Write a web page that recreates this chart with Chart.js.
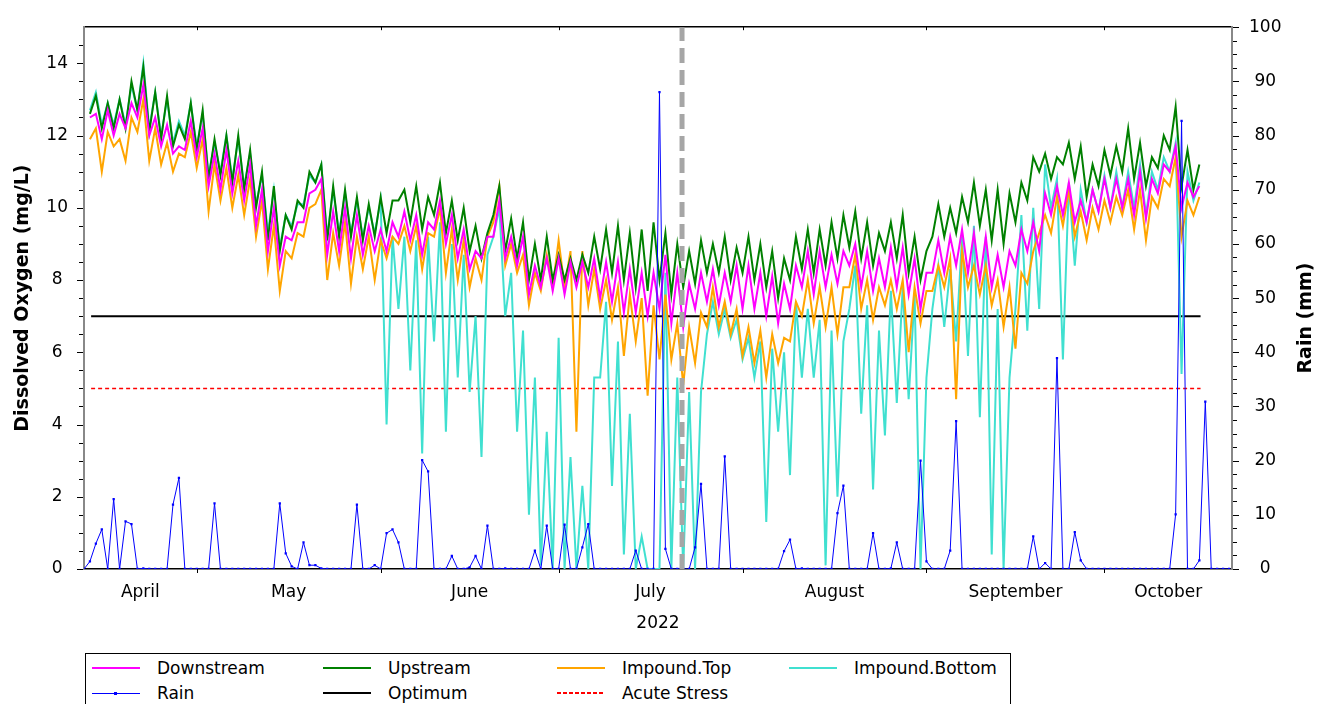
<!DOCTYPE html>
<html>
<head>
<meta charset="utf-8">
<script src="https://cdn.jsdelivr.net/npm/chart.js@4.4.0/dist/chart.umd.min.js"></script>
<style>
  html, body { margin: 0; padding: 0; background: #fff; }
  #wrap { position: relative; width: 1317px; height: 704px; overflow: hidden; font-family: "DejaVu Sans", sans-serif; }
  #chart { position: absolute; left: 0; top: 0; }
  #legend { position: absolute; left: 85px; top: 653px; width: 926px; height: 70px; border: 1px solid #000; box-sizing: border-box; }
  .item { position: absolute; display: flex; align-items: center; font-size: 17px; color: #000; white-space: nowrap; }
  .swatch { position: relative; width: 48px; height: 2px; margin-right: 17px; }
</style>
</head>
<body>
<div id="wrap">
  <canvas id="chart" width="1317" height="650"></canvas>
  <div id="legend"></div>
</div>
<script>
// x values are days counted from 12 April 2022 (day 0)
const monthNames = ['April', 'May', 'June', 'July', 'August', 'September', 'October'];
const monthEdges = [0, 19, 50, 80, 111, 142, 172, 193.5];   // Apr 12, May 1 ... Oct 1, axis end
const doTicks = [0, 2, 4, 6, 8, 10, 12, 14];
const rainTicks = [0, 10, 20, 30, 40, 50, 60, 70, 80, 90, 100];

// daily rain (mm), day 0 .. 193
const rainMm = [
  0, 1.4, 4.7, 7.3, 0, 12.9, 0, 8.8, 8.3, 0, 0.1, 0, 0, 0, 0, 11.9, 16.8, 0, 0, 0,
  0, 0, 12.1, 0, 0, 0, 0, 0, 0, 0, 0, 0, 0, 12.1, 2.9, 0.5, 0, 4.9, 0.7, 0.7,
  0.1, 0, 0, 0, 0, 0, 11.9, 0, 0, 0.7, 0, 6.6, 7.3, 4.9, 0, 0, 0, 20.1, 18, 0,
  0, 0, 2.4, 0, 0, 0.3, 2.4, 0, 8.0, 0, 0, 0.1, 0, 0, 0, 0, 3.4, 0, 8.0, 0,
  0, 8.2, 0, 0, 4.0, 8.3, 0, 0, 0, 0, 0, 0, 0, 3.4, 0, 0, 0, 88, 3.7, 0,
  0, 0, 0, 4.0, 15.7, 0, 0, 0, 20.8, 0, 0, 0, 0, 0, 0, 0, 0, 0, 3.3, 5.4,
  0, 0.1, 0, 0, 0, 0, 0, 10.3, 15.4, 0, 0, 0, 0, 6.6, 0, 0, 0.1, 4.9, 0, 0,
  0, 20, 1.4, 0, 0, 0, 3.4, 27.3, 0, 0, 0, 0, 0, 0, 0, 0, 0, 0, 0, 0,
  6.0, 0, 1.1, 0, 38.9, 0, 0, 6.8, 1.6, 0, 0, 0, 0, 0, 0, 0, 0, 0, 0, 0,
  0, 0, 0, 0, 10.1, 82.7, 0, 0, 1.6, 30.9, 0, 0, 0, 0
];

// dissolved oxygen (mg/L): daily low / high read every second day, day 1 .. 187
const doFirstDay = 1;
const downHi = [
  12.6, 12.7, 12.6, 12.9, 13.4, 12.5, 12.3, 11.7, 12.4, 12.2,
  11.5, 11.6, 11.3, 11.2, 10.5, 10.0, 9.2, 9.6, 10.4, 10.8,
  9.9, 10.0, 9.8, 9.5, 9.4, 9.6, 9.9, 9.8, 9.6, 10.2,
  9.8, 9.4, 8.8, 9.2, 10.2, 9.2, 9.2, 8.4, 8.6, 8.6,
  8.5, 8.5, 8.6, 8.5, 8.5, 8.3, 8.2, 8.2, 8.7, 8.2,
  7.9, 8.2, 8.3, 8.2, 8.4, 8.4, 8.2, 8.1, 7.9, 8.4,
  8.8, 8.8, 8.7, 8.8, 9.0, 8.8, 8.6, 8.9, 8.9, 8.6,
  8.2, 9.1, 9.2, 9.4, 9.3, 9.2, 8.7, 8.8, 9.4, 9.6,
  10.4, 10.6, 10.7, 10.2, 10.5, 10.8, 10.8, 10.8, 11.0, 10.8,
  11.2, 11.7, 10.7, 10.6
];
const downLo = [
  12.5, 11.9, 12.0, 12.2, 12.5, 12.0, 11.7, 11.5, 11.6, 11.4,
  10.6, 10.5, 10.4, 10.2, 9.5, 8.8, 8.4, 9.1, 9.6, 10.5,
  8.7, 8.8, 8.6, 8.7, 8.8, 8.8, 9.2, 9.1, 8.7, 9.4,
  9.0, 8.6, 8.3, 8.6, 9.2, 8.6, 8.4, 7.6, 7.8, 7.7,
  7.6, 7.8, 7.8, 7.5, 7.4, 7.1, 7.1, 7.0, 7.2, 6.8,
  6.7, 7.2, 7.4, 7.3, 7.4, 7.2, 7.2, 7.0, 6.8, 7.2,
  7.8, 7.6, 7.8, 7.9, 8.4, 7.8, 7.7, 7.8, 7.8, 7.6,
  7.2, 8.2, 8.2, 8.4, 8.2, 8.0, 7.8, 7.8, 8.4, 8.8,
  8.8, 9.8, 9.8, 9.6, 9.6, 9.9, 10.0, 10.0, 9.8, 9.7,
  10.4, 11.0, 10.0, 10.3
];
const upHi = [
  13.1, 12.9, 13.0, 13.5, 13.9, 13.2, 13.1, 12.3, 12.9, 12.7,
  11.9, 12.0, 12.0, 11.6, 11.0, 10.6, 9.8, 10.2, 11.0, 11.2,
  10.6, 10.5, 10.3, 10.1, 10.3, 10.2, 10.5, 10.6, 10.3, 10.7,
  10.2, 10.0, 9.5, 9.3, 10.6, 9.7, 9.6, 9.0, 9.2, 8.7,
  8.6, 8.7, 9.2, 9.4, 9.5, 9.3, 9.4, 9.6, 9.3, 9.0,
  8.8, 9.1, 9.0, 9.2, 8.9, 9.2, 9.0, 8.8, 8.6, 9.2,
  9.4, 9.4, 9.6, 9.8, 9.9, 9.6, 9.3, 9.6, 9.8, 9.2,
  8.8, 10.1, 10.0, 10.3, 10.7, 10.5, 10.5, 10.4, 10.7, 11.4,
  11.5, 11.4, 11.8, 11.7, 11.2, 11.6, 11.7, 12.2, 11.8, 11.4,
  12.0, 12.8, 11.6, 11.2
];
const upLo = [
  12.6, 12.2, 12.2, 12.2, 12.7, 12.1, 11.9, 11.7, 11.9, 11.6,
  10.8, 10.9, 10.7, 10.5, 10.0, 9.1, 8.8, 9.4, 10.0, 10.7,
  9.1, 9.2, 9.2, 9.1, 9.2, 9.3, 10.2, 9.6, 9.4, 9.8,
  9.3, 9.1, 8.8, 8.6, 9.8, 8.8, 8.6, 8.0, 8.0, 8.0,
  8.0, 8.0, 8.2, 8.3, 8.2, 8.0, 7.8, 7.7, 8.0, 7.6,
  7.8, 7.9, 8.2, 8.2, 8.0, 8.2, 8.0, 7.8, 7.5, 8.0,
  8.3, 8.2, 8.4, 8.6, 8.9, 8.6, 8.4, 8.8, 8.6, 8.2,
  8.0, 9.2, 9.2, 9.3, 9.6, 9.5, 9.1, 9.0, 9.6, 10.2,
  11.0, 10.8, 11.2, 10.8, 10.3, 10.6, 10.9, 11.0, 10.8, 10.6,
  11.1, 11.6, 10.6, 10.5
];
const topHi = [
  12.2, 12.1, 11.9, 12.5, 13.0, 12.2, 11.8, 11.5, 12.1, 11.9,
  11.2, 11.1, 10.9, 10.8, 10.2, 9.5, 8.8, 9.3, 10.0, 10.5,
  9.3, 9.6, 9.2, 9.2, 9.1, 9.2, 9.5, 9.5, 9.3, 10.0,
  9.4, 9.1, 8.6, 9.2, 10.6, 9.0, 8.7, 8.2, 8.7, 9.1,
  8.8, 8.8, 8.3, 8.0, 7.8, 7.6, 7.5, 7.3, 7.6, 6.8,
  6.7, 7.1, 7.8, 7.4, 7.2, 6.7, 6.6, 6.5, 6.4, 7.4,
  8.0, 7.8, 7.8, 7.8, 8.7, 8.0, 7.8, 8.0, 8.0, 7.8,
  7.7, 8.4, 8.6, 8.8, 8.4, 8.4, 8.0, 7.8, 8.2, 8.8,
  9.8, 10.3, 10.5, 9.9, 10.0, 10.2, 10.3, 10.5, 10.5, 10.3,
  10.8, 11.4, 10.2, 10.3
];
const topLo = [
  11.9, 11.0, 11.7, 11.3, 12.1, 11.3, 11.2, 11.0, 11.4, 11.1,
  9.9, 10.2, 10.0, 9.8, 9.2, 8.3, 7.7, 8.6, 9.2, 10.1,
  8.0, 8.4, 7.9, 8.3, 8.0, 8.6, 9.0, 8.8, 8.3, 9.2,
  8.2, 8.0, 7.8, 8.0, 9.6, 8.4, 8.2, 7.3, 7.7, 7.8,
  7.8, 3.8, 7.3, 7.2, 6.9, 5.9, 6.3, 4.8, 5.8, 5.8,
  5.1, 5.7, 6.7, 6.7, 6.5, 5.9, 5.7, 5.3, 5.7, 6.3,
  7.0, 6.8, 6.7, 6.5, 7.8, 7.2, 6.9, 7.3, 7.2, 6.0,
  6.8, 7.7, 7.8, 4.7, 7.8, 7.6, 7.3, 6.7, 6.1, 7.9,
  9.3, 9.3, 9.5, 9.2, 9.1, 9.4, 9.6, 9.8, 9.4, 9.1,
  10.0, 10.6, 9.2, 9.8
];
const botHi = [
  13.2, 12.9, 13.0, 13.4, 14.0, 13.2, 13.0, 12.4, 12.9, 12.6,
  11.8, 12.0, 11.9, 11.5, 10.9, 10.5, 9.8, 10.1, 10.9, 11.2,
  10.5, 10.4, 10.2, 10.0, 10.2, 9.2, 9.2, 9.1, 9.2, 9.6,
  9.0, 8.7, 7.0, 8.7, 10.0, 8.2, 6.6, 5.3, 3.8, 6.4,
  3.1, 2.3, 5.3, 7.4, 6.3, 4.3, 0.9, 0.0, 8.2, 5.3,
  4.9, 4.9, 7.4, 7.2, 6.9, 6.4, 6.3, 6.1, 6.0, 7.4,
  7.2, 6.9, 6.6, 6.3, 8.4, 7.3, 6.6, 7.7, 7.8, 7.6,
  5.3, 8.4, 8.3, 9.2, 9.5, 9.2, 7.2, 5.3, 9.8, 10.0,
  11.2, 10.8, 10.7, 10.5, 10.5, 10.9, 11.0, 11.0, 11.2, 11.0,
  11.4, 11.8, 11.0, 10.7
];
const botLo = [
  12.7, 12.3, 12.3, 12.3, 12.7, 12.2, 12.0, 11.8, 12.0, 11.7,
  10.9, 11.0, 10.8, 10.6, 10.1, 9.3, 8.9, 9.5, 10.1, 10.7,
  9.2, 9.3, 9.3, 9.2, 9.3, 4.0, 7.2, 5.5, 3.2, 6.3,
  3.8, 5.3, 4.9, 3.1, 9.2, 7.0, 3.8, 1.5, 0.1, 0.0,
  0.0, 0.0, 0.0, 5.3, 2.3, 0.4, 0.0, 0.0, 0.0, 0.0,
  0.0, 0.0, 6.5, 6.5, 6.4, 5.8, 5.3, 1.3, 3.8, 2.6,
  5.3, 5.3, 0.1, 2.0, 7.2, 4.3, 2.2, 3.7, 4.6, 4.7,
  0.0, 7.2, 6.7, 6.3, 5.9, 4.2, 0.4, 0.0, 7.2, 6.6,
  7.2, 10.0, 5.8, 8.4, 9.6, 9.9, 10.0, 10.0, 10.0, 9.8,
  10.5, 11.0, 5.4, 10.2
];

const optimumDo = 7;
const acuteStressDo = 5;
const refSpan = [1.2, 188.2];      // days covered by the reference lines
const markerDay = 100.8;           // grey dashed marker (21 July)

const seriesNames = ['Downstream', 'Upstream', 'Impound.Top', 'Impound.Bottom', 'Rain', 'Optimum', 'Acute Stress'];
const seriesColors = ['#ff00ff', '#008000', '#ffa500', '#40e0d0', '#0000ff', '#000000', '#ff0000'];

const FONT = '"DejaVu Sans", sans-serif';
Chart.defaults.font.family = FONT;
Chart.defaults.color = '#000';

// low at day d, high at day d + 1
const zigzag = (lo, hi) => {
  const pts = [];
  lo.forEach((v, i) => {
    const d = doFirstDay + i * 2;
    pts.push({ x: d, y: v });
    pts.push({ x: d + 1, y: hi[i] });
  });
  return pts;
};

const monthMids = monthNames.map((m, i) => (monthEdges[i] + monthEdges[i + 1]) / 2);
const monthStarts = monthEdges.slice(1, -1);

const doLine = (label, color, pts) => ({
  label, data: pts, borderColor: color, borderWidth: 2, pointRadius: 0, yAxisID: 'y'
});

const datasets = [
  { label: 'marker', data: [{ x: markerDay, y: 0 }, { x: markerDay, y: 15 }], borderColor: '#a6a6a6',
    borderWidth: 5, borderDash: [15, 7], pointRadius: 0, yAxisID: 'y' },
  { label: 'Rain', data: rainMm.map((v, i) => ({ x: i, y: v })), borderColor: '#0000ff', borderWidth: 1,
    pointRadius: 1.6, pointStyle: 'rect', pointBackgroundColor: '#0000ff', pointBorderWidth: 0, yAxisID: 'y2' },
  doLine('Downstream', '#ff00ff', zigzag(downLo, downHi)),
  doLine('Upstream', '#008000', zigzag(upLo, upHi)),
  doLine('Impound.Top', '#ffa500', zigzag(topLo, topHi)),
  doLine('Impound.Bottom', '#40e0d0', zigzag(botLo, botHi)),
  { label: 'Optimum', data: refSpan.map(x => ({ x, y: optimumDo })), borderColor: '#000', borderWidth: 2,
    pointRadius: 0, yAxisID: 'y' },
  { label: 'Acute Stress', data: refSpan.map(x => ({ x, y: acuteStressDo })), borderColor: '#ff0000',
    borderWidth: 1.5, borderDash: [4, 3], pointRadius: 0, yAxisID: 'y' }
];

// tick marks and the right-hand title
const axisDecor = {
  id: 'axisDecor',
  afterDraw(chart) {
    const { ctx, scales } = chart;
    const { x, x2, y, y2 } = scales;
    ctx.save();
    ctx.strokeStyle = '#000';
    ctx.lineWidth = 1;
    const hTick = (px, x0, len) => { ctx.beginPath(); ctx.moveTo(x0, px + 0.5); ctx.lineTo(x0 + len, px + 0.5); ctx.stroke(); };
    const vTick = (px, y0, len) => { ctx.beginPath(); ctx.moveTo(px + 0.5, y0); ctx.lineTo(px + 0.5, y0 + len); ctx.stroke(); };
    // left axis: major every 2, minor every 0.5 up to 15
    doTicks.forEach(v => {
      hTick(Math.round(y.getPixelForValue(v)), y.right - 7, 6);
      for (let k = 1; k < 4; k++) {
        const m = v + k * 0.5;
        if (m < y.max) hTick(Math.round(y.getPixelForValue(m)), y.right - 5, 4);
      }
    });
    // right axis: major every 10, minor every 2.5
    rainTicks.forEach((v, i) => {
      hTick(Math.round(y2.getPixelForValue(v)), y2.left + 1, 6);
      if (i < rainTicks.length - 1)
        for (let k = 1; k < 4; k++) hTick(Math.round(y2.getPixelForValue(v + k * 2.5)), y2.left + 1, 4);
    });
    monthStarts.forEach(d => {
      const px = Math.round(x.getPixelForValue(d));
      vTick(px, x.top, 4);
      vTick(px, x2.bottom - 1, 4);
    });
    ctx.translate(1306, 318);
    ctx.rotate(-Math.PI / 2);
    ctx.fillStyle = '#000';
    ctx.font = 'bold 19px ' + FONT;
    ctx.textAlign = 'center';
    ctx.textBaseline = 'middle';
    ctx.fillText('Rain (mm)', 0, 0);
    ctx.restore();
  }
};

new Chart(document.getElementById('chart'), {
  type: 'line',
  data: { datasets },
  options: {
    responsive: false,
    animation: false,
    layout: { padding: 0 },
    elements: { line: { tension: 0 } },
    plugins: { legend: { display: false }, tooltip: { enabled: false } },
    scales: {
      x: {
        type: 'linear', position: 'bottom', min: monthEdges[0], max: monthEdges[monthEdges.length - 1],
        afterBuildTicks: s => { s.ticks = monthMids.map(v => ({ value: v })); },
        ticks: { autoSkip: false, maxRotation: 0, padding: 13, font: { size: 17 }, callback: (v, i) => monthNames[i] },
        grid: { display: false, drawTicks: false },
        border: { color: '#000', width: 1.5 },
        title: { display: true, text: '2022', font: { size: 17 }, padding: { top: 0, bottom: 16 } },
        afterFit: s => { s.height = 81; }
      },
      x2: {
        type: 'linear', position: 'top', min: monthEdges[0], max: monthEdges[monthEdges.length - 1],
        ticks: { display: false },
        grid: { display: false, drawTicks: false },
        border: { color: '#000', width: 1.5 },
        afterFit: s => { s.height = 24; }
      },
      y: {
        position: 'left', min: 0, max: 15,
        afterBuildTicks: s => { s.ticks = doTicks.map(v => ({ value: v })); },
        ticks: { padding: 16, crossAlign: 'center', font: { size: 17 } },
        grid: { display: false, drawTicks: false },
        border: { color: '#888', width: 2 },
        title: { display: true, text: 'Dissolved Oxygen (mg/L)', font: { size: 19, weight: 'bold' }, padding: { top: 12, bottom: 0 } },
        afterFit: s => { s.width = 84; }
      },
      y2: {
        position: 'right', min: 0, max: 100,
        afterBuildTicks: s => { s.ticks = rainTicks.map(v => ({ value: v })); },
        ticks: { padding: 17, crossAlign: 'center', font: { size: 17 } },
        grid: { display: false, drawTicks: false },
        border: { color: '#888', width: 2 },
        afterFit: s => { s.width = 85; }
      }
    }
  },
  plugins: [axisDecor]
});

// legend box below the chart
const legendCols = [6, 237, 471, 703];
const legendRows = [14, 39];
const legend = document.getElementById('legend');
seriesNames.forEach((name, i) => {
  const item = document.createElement('div');
  item.className = 'item';
  item.style.left = legendCols[i % 4] + 'px';
  item.style.top = (legendRows[Math.floor(i / 4)] - 11) + 'px';
  item.style.height = '22px';
  const sw = document.createElement('span');
  sw.className = 'swatch';
  if (name === 'Acute Stress') {
    sw.style.background = `repeating-linear-gradient(90deg, ${seriesColors[i]} 0 4px, transparent 4px 6px)`;
  } else if (name === 'Rain') {
    sw.style.height = '1px';
    sw.style.background = seriesColors[i];
    const dot = document.createElement('span');
    dot.style.cssText = `position:absolute;left:22px;top:-1px;width:3px;height:3px;background:${seriesColors[i]}`;
    sw.appendChild(dot);
  } else {
    sw.style.background = seriesColors[i];
  }
  item.appendChild(sw);
  item.appendChild(document.createTextNode(name));
  legend.appendChild(item);
});
</script>
</body>
</html>
